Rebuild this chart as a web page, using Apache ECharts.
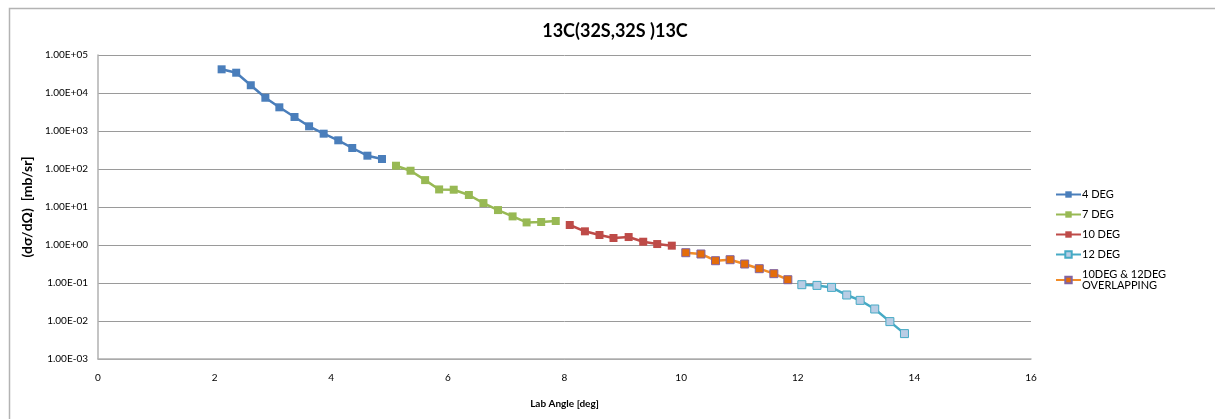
<!DOCTYPE html>
<html>
<head>
<meta charset="utf-8">
<script src="https://cdn.jsdelivr.net/npm/echarts@6/dist/echarts.min.js"></script>
<style>
html,body{margin:0;padding:0;background:#fff;}
#c{width:1215px;height:419px;}
</style>
</head>
<body>
<div id="c"></div>
<script>
// Data
const x4 = [2.12, 2.37, 2.62, 2.87, 3.11, 3.37, 3.62, 3.87, 4.12, 4.36, 4.62, 4.87];
const y4 = [42000, 34200, 16000, 7500, 4200, 2340, 1330, 850, 569, 357, 224, 183];
const x7 = [5.11, 5.36, 5.61, 5.85, 6.10, 6.36, 6.61, 6.86, 7.11, 7.35, 7.60, 7.85];
const y7 = [122, 90, 51, 29, 28.5, 20.7, 12.7, 8.3, 5.66, 3.93, 4.03, 4.28];
const x10 = [8.09, 8.35, 8.60, 8.84, 9.10, 9.35, 9.59, 9.84];
const y10 = [3.36, 2.29, 1.83, 1.53, 1.62, 1.22, 1.06, 0.96];
const x12 = [12.07, 12.33, 12.58, 12.84, 13.07, 13.32, 13.58, 13.83];
const y12 = [0.0902, 0.0865, 0.0766, 0.0483, 0.0349, 0.0207, 0.00964, 0.00466];
const xOv = [10.08, 10.34, 10.59, 10.84, 11.09, 11.34, 11.59, 11.83];
const yOv = [0.627, 0.58, 0.386, 0.41, 0.316, 0.238, 0.176, 0.122];
const seriesNames = ['4 DEG', '7 DEG', '10 DEG', '12 DEG', '10DEG & 12DEG\nOVERLAPPING'];
const yTickLabels = ['1.00E-03','1.00E-02','1.00E-01','1.00E+00','1.00E+01','1.00E+02','1.00E+03','1.00E+04','1.00E+05'];
const xTicks = [0, 2, 4, 6, 8, 10, 12, 14, 16];

const zip = (xs, ys) => xs.map((x, i) => [x, ys[i]]);
const FONT = 'Lato, "Open Sans", sans-serif';

function mk(name, xs, ys, line, fill, border) {
  return {
    name: name, type: 'line', data: zip(xs, ys),
    symbol: 'rect', symbolSize: 8,
    lineStyle: {color: line, width: 2.5},
    itemStyle: {color: fill, borderColor: border, borderWidth: border === fill ? 0 : 1},
    emphasis: {disabled: true},
    animation: false
  };
}

const chart = echarts.init(document.getElementById('c'), null, {renderer: 'canvas'});
chart.setOption({
  animation: false,
  backgroundColor: '#fff',
  title: {
    text: '13C(32S,32S )13C', left: 610, top: 17, textAlign: 'center',
    textStyle: {fontFamily: FONT, fontSize: 18, fontWeight: 'bold', color: '#000'}
  },
  graphic: [{
    type: 'rect', left: 7, top: 6, shape: {width: 1215, height: 420},
    style: {fill: 'none', stroke: '#b3b3b3', lineWidth: 1.5}, silent: true
  }],
  legend: {
    orient: 'vertical', left: 1050, top: 184, itemGap: 9,
    itemWidth: 25, itemHeight: 8,
    textStyle: {fontFamily: FONT, fontSize: 11, color: '#000', padding: [0,0,0,-4]},
    data: seriesNames
  },
  grid: {left: 98, right: 184, top: 55, bottom: 60},
  xAxis: {
    type: 'value', min: 0, max: 16, interval: 2,
    name: 'Lab Angle [deg]', nameLocation: 'middle', nameGap: 40,
    nameTextStyle: {fontFamily: FONT, fontSize: 10, fontWeight: 'bold', color: '#000'},
    axisLine: {lineStyle: {color: '#b0b0b0', width: 1.5}},
    axisTick: {show: false},
    axisLabel: {fontFamily: FONT, fontSize: 10, color: '#000', margin: 14,
      formatter: v => xTicks.indexOf(v) >= 0 ? String(v) : ''},
    splitLine: {show: false}
  },
  yAxis: {
    type: 'log', logBase: 10, min: 0.001, max: 100000,
    name: '(dσ/dΩ)  [mb/sr]', nameLocation: 'middle', nameGap: 62,
    nameTextStyle: {fontFamily: FONT, fontSize: 14, fontWeight: 'bold', color: '#000'},
    axisLine: {show: true, lineStyle: {color: '#b0b0b0', width: 1.5}},
    axisTick: {show: false},
    axisLabel: {fontFamily: FONT, fontSize: 10, color: '#000', margin: 10,
      formatter: v => { const i = Math.round(Math.log10(v)) + 3; return yTickLabels[i] || ''; }},
    splitLine: {lineStyle: {color: '#9a9a9a', width: 1}}
  },
  series: [
    mk(seriesNames[0], x4, y4, '#4A7EBB', '#4A7EBB', '#4A7EBB'),
    mk(seriesNames[1], x7, y7, '#98B954', '#98B954', '#98B954'),
    mk(seriesNames[2], x10, y10, '#BE4B48', '#BE4B48', '#BE4B48'),
    mk(seriesNames[3], x12, y12, '#46AAC5', '#B9CDE5', '#46AAC5'),
    mk(seriesNames[4], xOv, yOv, '#F28C28', '#E46C0A', '#8064A2')
  ]
});
</script>
</body>
</html>
